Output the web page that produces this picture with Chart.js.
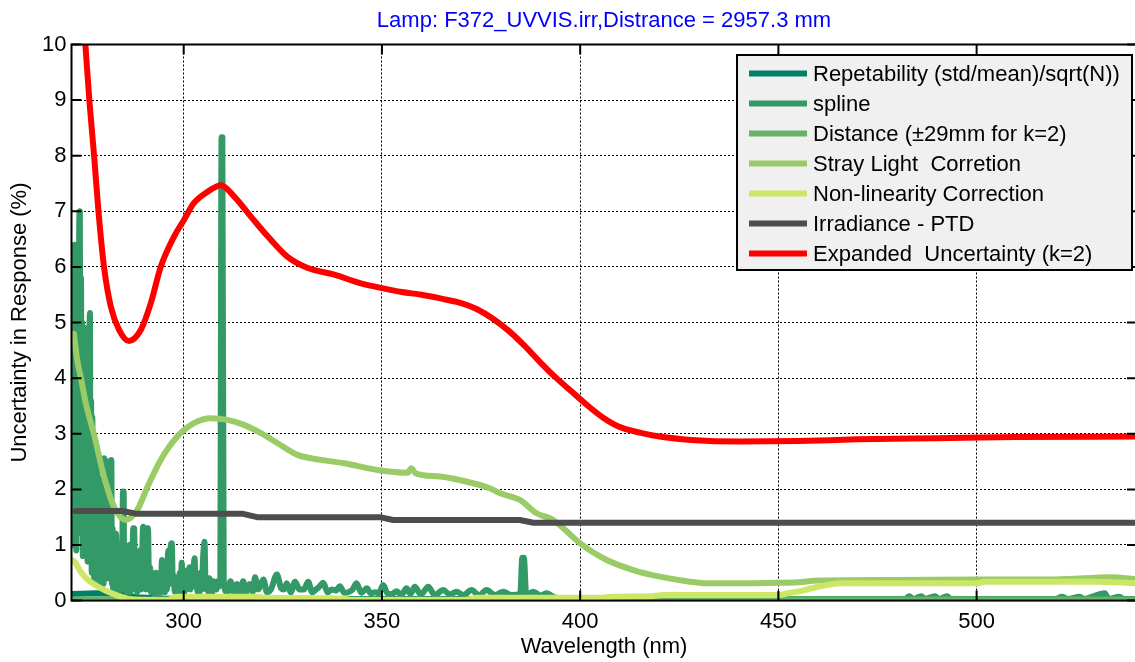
<!DOCTYPE html>
<html>
<head>
<meta charset="utf-8">
<title>Uncertainty in Response</title>
<script src="https://cdn.jsdelivr.net/npm/chart.js@4.4.0/dist/chart.umd.min.js"></script>
<style>
html, body { margin: 0; padding: 0; background: #fff; overflow: hidden; }
#wrap { width: 1140px; height: 662px; }
</style>
</head>
<body>
<div id="wrap"><canvas id="myChart" width="1140" height="662"></canvas></div>
<script>
// axis setup
var xTicks = [300, 350, 400, 450, 500];
var yTicks = [0, 1, 2, 3, 4, 5, 6, 7, 8, 9, 10];
var xRange = [271.7, 540.45];
var yRange = [0, 10];

var chartTitle = 'Lamp: F372_UVVIS.irr,Distrance = 2957.3 mm';
var xTitle = 'Wavelength (nm)';
var yTitle = 'Uncertainty in Response (%)';

var seriesNames = [
	'Repetability (std/mean)/sqrt(N))',
	'spline',
	'Distance (\u00b129mm for k=2)',
	'Stray Light  Corretion',
	'Non-linearity Correction',
	'Irradiance - PTD',
	'Expanded  Uncertainty (k=2)'
];
var seriesColors = ['#008066', '#339966', '#66b366', '#99cc66', '#cce666', '#4d4d4d', '#ff0000'];
// smooth curves get monotone interpolation, the PTD steps stay straight
var seriesSmooth = [false, true, false, true, true, false, true];

// Repetability
var repNm = [272.0, 278.0, 284.5, 288.0, 295.0, 310.0, 540.45];
var repVal = [0.12, 0.13, 0.12, 0.06, 0.04, 0.03, 0.03];

// spline
var splineNm = [
	272.0, 272.15, 272.3, 272.45, 272.6, 272.75, 272.9, 273.05, 273.2, 273.35,
	273.5, 273.65, 273.8, 273.95, 274.1, 274.25, 274.4, 274.55, 274.7, 274.85,
	275.0, 275.15, 275.3, 275.45, 275.6, 275.75, 275.9, 276.05, 276.2, 276.35,
	276.5, 276.65, 276.8, 276.95, 277.1, 277.25, 277.4, 277.55, 277.7, 277.85,
	278.0, 278.15, 278.3, 278.45, 278.6, 278.75, 278.9, 279.05, 279.2, 279.35,
	279.5, 279.65, 279.8, 279.95, 280.1, 280.25, 280.4, 280.55, 280.7, 280.85,
	281.0, 281.15, 281.3, 281.45, 281.6, 281.75, 281.9, 282.05, 282.2, 282.35,
	282.5, 282.65, 282.8, 282.95, 283.1, 283.25, 283.4, 283.55, 283.7, 283.85,
	284.0, 284.15, 284.3, 284.45, 284.7, 284.85, 285.0, 285.25, 285.5, 285.75,
	286.0, 286.25, 286.5, 286.75, 287.0, 287.25, 287.5, 287.75, 288.0, 288.25,
	288.5, 288.75, 289.0, 289.25, 289.5, 289.75, 290.0, 290.25, 290.5, 290.75,
	291.0, 291.25, 291.5, 291.75, 292.0, 292.25, 292.5, 292.75, 293.0, 293.25,
	293.5, 293.75, 294.0, 294.25, 294.5, 294.75, 295.0, 295.25, 295.5, 295.75,
	296.0, 296.25, 296.5, 296.75, 297.0, 297.25, 297.5, 297.75, 298.0, 298.25,
	298.5, 298.75, 299.0, 299.25, 299.5, 299.75, 300.0, 300.25, 300.5, 300.75,
	301.0, 301.25, 301.5, 301.75, 302.0, 302.25, 302.5, 302.75, 303.0, 303.25,
	303.5, 303.75, 304.0, 304.25, 304.5, 304.75, 305.0, 305.25, 305.5, 305.75,
	306.0, 306.25, 306.5, 306.75, 307.0, 307.25, 307.5, 307.75, 308.0, 308.25,
	308.5, 308.75, 309.2, 309.55, 309.75, 310.1, 311.0, 311.8, 312.6, 313.4,
	314.2, 315.0, 315.8, 316.6, 317.4, 318.0, 318.8, 319.5, 320.1, 321.0,
	322.0, 323.5, 324.6, 325.3, 326.0, 327.0, 328.1, 329.2, 330.3, 331.4,
	332.4, 333.4, 334.2, 335.2, 336.3, 337.4, 338.4, 339.4, 340.5, 341.5,
	342.6, 343.6, 344.8, 346.2, 347.2, 348.3, 349.2, 350.3, 351.5, 352.6,
	353.7, 354.9, 356.2, 357.2, 358.3, 359.8, 361.7, 363.3, 365.5, 367.1,
	368.8, 370.6, 372.6, 374.5, 376.4, 378.5, 380.6, 382.6, 384.9, 385.4,
	385.8, 386.4, 388.2, 390.0, 391.6, 393.5, 396.0, 400.0, 440.0, 482.0,
	483.0, 484.0, 486.0, 487.0, 489.5, 490.5, 492.5, 493.5, 520.0, 521.5,
	523.0, 526.0, 527.0, 532.3, 533.3, 536.0, 537.0, 540.45
];
var splineVal = [
	1.0, 6.3, 2.0, 6.4, 1.5, 6.2, 0.9, 5.5, 1.2, 6.3,
	2.5, 6.8, 7.0, 2.0, 5.8, 1.5, 5.0, 0.8, 4.6, 1.6,
	4.9, 1.0, 4.2, 2.0, 4.6, 0.7, 3.8, 1.5, 4.4, 5.17,
	1.0, 3.6, 0.5, 3.3, 0.8, 3.0, 0.4, 2.8, 0.5, 2.2,
	0.3, 2.6, 0.6, 1.9, 0.3, 2.2, 0.4, 1.6, 0.3, 2.0,
	0.5, 1.4, 0.3, 2.56, 2.5, 0.6, 2.4, 0.9, 2.5, 0.4,
	2.3, 0.8, 2.45, 0.5, 2.5, 2.53, 0.3, 1.3, 0.2, 1.1,
	0.3, 0.9, 0.2, 1.2, 0.3, 0.8, 0.2, 1.0, 0.15, 0.7,
	0.3, 0.9, 0.2, 0.5, 1.96, 1.96, 0.2, 0.9, 0.15, 0.6,
	0.2, 1.0, 0.15, 0.7, 0.3, 1.3, 1.3, 0.2, 0.8, 0.15,
	0.6, 0.2, 0.9, 0.2, 0.7, 1.33, 0.3, 0.8, 0.2, 1.3,
	1.3, 0.3, 0.6, 0.15, 0.5, 0.2, 0.45, 0.1, 0.5, 0.15,
	0.35, 0.2, 0.5, 0.15, 0.73, 0.2, 0.45, 0.15, 0.5, 0.2,
	0.8, 0.9, 0.3, 1.0, 1.03, 0.3, 0.45, 0.15, 0.4, 0.1,
	0.35, 0.2, 0.5, 0.15, 0.68, 0.2, 0.4, 0.15, 0.45, 0.2,
	0.55, 0.25, 0.6, 0.2, 0.5, 0.3, 0.6, 0.76, 0.25, 0.4,
	0.15, 0.45, 0.15, 0.5, 0.2, 0.55, 0.9, 1.06, 0.3, 0.2,
	0.35, 0.15, 0.4, 0.2, 0.3, 0.15, 0.35, 0.2, 0.3, 0.2,
	0.35, 0.25, 0.3, 8.33, 8.33, 0.3, 0.15, 0.35, 0.15, 0.3,
	0.12, 0.35, 0.15, 0.3, 0.15, 0.42, 0.2, 0.3, 0.38, 0.15,
	0.2, 0.47, 0.22, 0.2, 0.31, 0.15, 0.34, 0.2, 0.2, 0.34,
	0.15, 0.2, 0.25, 0.32, 0.15, 0.2, 0.18, 0.26, 0.14, 0.15,
	0.2, 0.31, 0.14, 0.22, 0.13, 0.15, 0.13, 0.28, 0.12, 0.12,
	0.17, 0.1, 0.22, 0.12, 0.25, 0.11, 0.25, 0.1, 0.19, 0.11,
	0.16, 0.1, 0.19, 0.1, 0.19, 0.1, 0.16, 0.1, 0.12, 0.77,
	0.77, 0.1, 0.16, 0.09, 0.13, 0.06, 0.04, 0.03, 0.03, 0.03,
	0.08, 0.03, 0.08, 0.03, 0.08, 0.03, 0.08, 0.03, 0.03, 0.07,
	0.03, 0.07, 0.03, 0.13, 0.03, 0.07, 0.03, 0.03
];

// Distance
var distNm = [272.0, 350.0, 450.0, 540.45];
var distVal = [0.02, 0.02, 0.02, 0.02];

// Stray light correction
var strayNm = [
	272.3, 273.2, 274.0, 275.3, 277.4, 279.9, 282.4, 285.4, 288.3, 290.9,
	294.2, 298.4, 302.6, 306.8, 311.0, 315.2, 319.5, 323.7, 328.7, 334.6,
	340.5, 348.9, 356.5, 357.4, 358.5, 364.6, 373.0, 377.2, 379.8, 384.8,
	389.0, 393.2, 400.0, 406.7, 413.4, 420.1, 427.7, 432.0, 440.0, 450.0,
	455.0, 460.0, 480.0, 500.0, 520.0, 534.0, 540.45
];
var strayVal = [
	4.8, 4.3, 4.03, 3.55, 2.98, 2.23, 1.69, 1.45, 1.63, 2.05,
	2.53, 2.95, 3.19, 3.28, 3.25, 3.16, 3.01, 2.83, 2.62, 2.53,
	2.47, 2.35, 2.3, 2.38, 2.29, 2.23, 2.11, 2.02, 1.93, 1.81,
	1.57, 1.45, 1.03, 0.73, 0.55, 0.43, 0.34, 0.31, 0.31, 0.32,
	0.33, 0.36, 0.37, 0.38, 0.38, 0.42, 0.38
];

// Non-linearity correction
var nonlinNm = [
	272.2, 272.7, 274.3, 276.0, 277.7, 280.0, 281.9, 284.0, 286.1, 290.0,
	296.0, 298.0, 318.0, 320.0, 340.0, 342.0, 371.0, 374.0, 405.0, 408.0,
	418.0, 421.0, 448.0, 450.0, 453.0, 456.0, 460.0, 463.0, 466.0, 500.0,
	502.0, 530.0, 538.0, 540.45
];
var nonlinVal = [
	0.72, 0.68, 0.49, 0.36, 0.28, 0.19, 0.13, 0.07, 0.03, 0.01,
	0.01, 0.07, 0.07, 0.05, 0.04, 0.01, 0.01, 0.05, 0.05, 0.07,
	0.08, 0.1, 0.1, 0.1, 0.14, 0.18, 0.25, 0.29, 0.31, 0.31,
	0.34, 0.34, 0.32, 0.31
];

// Irradiance - PTD
var ptdNm = [272.7, 284.6, 288.2, 315.0, 318.5, 349.5, 352.8, 384.8, 388.2, 540.45];
var ptdVal = [1.61, 1.61, 1.56, 1.56, 1.50, 1.50, 1.45, 1.45, 1.40, 1.40];

// Expanded uncertainty (k=2)
var expNm = [
	274.7, 275.2, 276.2, 277.4, 278.5, 279.9, 281.6, 283.7, 286.2, 289.2,
	291.7, 294.2, 297.6, 300.1, 302.6, 306.0, 309.4, 312.8, 317.0, 321.2,
	326.2, 331.3, 338.0, 344.5, 350.0, 355.0, 360.0, 365.0, 370.0, 374.0,
	378.0, 382.0, 386.0, 390.0, 394.0, 398.0, 402.0, 406.0, 410.0, 415.0,
	420.0, 428.0, 440.0, 455.0, 470.0, 490.0, 510.0, 540.45
];
var expVal = [
	10.5, 10.0, 9.0, 8.0, 7.0, 6.0, 5.29, 4.87, 4.67, 4.87,
	5.35, 6.0, 6.55, 6.85, 7.15, 7.35, 7.47, 7.26, 6.9, 6.55,
	6.18, 5.98, 5.86, 5.71, 5.62, 5.55, 5.5, 5.43, 5.35, 5.24,
	5.07, 4.85, 4.58, 4.28, 4.0, 3.75, 3.5, 3.28, 3.12, 3.02,
	2.95, 2.89, 2.86, 2.87, 2.9, 2.92, 2.94, 2.95
];

var seriesNm = [repNm, splineNm, distNm, strayNm, nonlinNm, ptdNm, expNm];
var seriesVal = [repVal, splineVal, distVal, strayVal, nonlinVal, ptdVal, expVal];

var fontFamily = '"Liberation Sans", Arial, Helvetica, sans-serif';

function toPoints(nm, val) {
	var pts = [];
	for (var i = 0; i < nm.length; i++) {
		pts.push({ x: nm[i], y: val[i] });
	}
	return pts;
}

// box, inward ticks, titles and legend
var decorPlugin = {
	id: 'decor',
	afterDatasetsDraw: function (chart) {
		var ctx = chart.ctx;
		var a = chart.chartArea;
		var xs = chart.scales.x;
		var ys = chart.scales.y;
		var tl = 10;
		ctx.save();
		ctx.strokeStyle = '#000';
		ctx.lineWidth = 2;
		ctx.beginPath();
		for (var i = 0; i < xTicks.length; i++) {
			var px = xs.getPixelForValue(xTicks[i]);
			ctx.moveTo(px, a.top);
			ctx.lineTo(px, a.top + tl);
			ctx.moveTo(px, a.bottom);
			ctx.lineTo(px, a.bottom - tl);
		}
		for (var j = 0; j < yTicks.length; j++) {
			var py = ys.getPixelForValue(yTicks[j]);
			ctx.moveTo(a.left, py);
			ctx.lineTo(a.left + tl, py);
			ctx.moveTo(a.right, py);
			ctx.lineTo(a.right - tl, py);
		}
		ctx.stroke();
		ctx.strokeRect(a.left, a.top, a.right - a.left, a.bottom - a.top);
		ctx.restore();
	},
	afterDraw: function (chart) {
		var ctx = chart.ctx;
		var a = chart.chartArea;
		ctx.save();
		ctx.textAlign = 'center';
		ctx.textBaseline = 'middle';
		ctx.font = '22px ' + fontFamily;
		ctx.fillStyle = '#0000ff';
		ctx.fillText(chartTitle, 604, 21);
		ctx.fillStyle = '#000';
		ctx.fillText(xTitle, 604, 647);
		ctx.save();
		ctx.translate(20, (a.top + a.bottom) / 2);
		ctx.rotate(-Math.PI / 2);
		ctx.fillText(yTitle, 0, 0);
		ctx.restore();

		// legend
		var bx = 737, by = 55, bw = 395, bh = 215;
		ctx.fillStyle = '#f0f0f0';
		ctx.fillRect(bx, by, bw, bh);
		ctx.strokeStyle = '#000';
		ctx.lineWidth = 2;
		ctx.strokeRect(bx, by, bw, bh);
		ctx.textAlign = 'left';
		var ds = chart.data.datasets;
		for (var i = 0; i < ds.length; i++) {
			var ry = 73.5 + i * 30;
			ctx.strokeStyle = ds[i].borderColor;
			ctx.lineWidth = 6;
			ctx.lineCap = 'butt';
			ctx.beginPath();
			ctx.moveTo(749, ry);
			ctx.lineTo(807, ry);
			ctx.stroke();
			ctx.fillStyle = '#000';
			ctx.fillText(ds[i].label, 813, ry + 1);
		}
		ctx.restore();
	}
};

function crearGrafico() {
	var ctx = document.getElementById('myChart').getContext('2d');
	var datasets = [];
	for (var i = 0; i < seriesNames.length; i++) {
		datasets.push({
			label: seriesNames[i],
			data: toPoints(seriesNm[i], seriesVal[i]),
			borderColor: seriesColors[i],
			backgroundColor: seriesColors[i],
			borderWidth: 6,
			borderJoinStyle: 'round',
			borderCapStyle: 'round',
			pointRadius: 0,
			cubicInterpolationMode: seriesSmooth[i] ? 'monotone' : 'default',
			tension: 0,
			fill: false,
			order: seriesNames.length - i
		});
	}

	new Chart(ctx, {
		type: 'line',
		data: { datasets: datasets },
		options: {
			responsive: false,
			animation: false,
			devicePixelRatio: 1,
			layout: { padding: { top: 44.5, right: 3, left: 0, bottom: 0 } },
			plugins: {
				legend: { display: false },
				title: { display: false },
				tooltip: { enabled: false }
			},
			scales: {
				x: {
					type: 'linear',
					min: xRange[0],
					max: xRange[1],
					afterBuildTicks: function (s) {
						s.ticks = xTicks.map(function (v) { return { value: v }; });
					},
					afterFit: function (s) {
						s.height = 61.4;
						s.paddingLeft = 0;
						s.paddingRight = 0;
						s.paddingTop = 0;
						s.paddingBottom = 0;
					},
					grid: { color: '#000', lineWidth: 1, drawTicks: false },
					border: { display: false, dash: [2, 2] },
					ticks: {
						padding: 8,
						color: '#000',
						maxRotation: 0,
						font: { family: fontFamily, size: 22 },
						callback: function (v) { return String(v); }
					}
				},
				y: {
					type: 'linear',
					min: yRange[0],
					max: yRange[1],
					afterBuildTicks: function (s) {
						s.ticks = yTicks.map(function (v) { return { value: v }; });
					},
					afterFit: function (s) {
						s.width = 71.5;
						s.paddingLeft = 0;
						s.paddingRight = 0;
						s.paddingTop = 0;
						s.paddingBottom = 0;
					},
					grid: { color: '#000', lineWidth: 1, drawTicks: false },
					border: { display: false, dash: [2, 2] },
					ticks: {
						padding: 5,
						color: '#000',
						font: { family: fontFamily, size: 22 },
						callback: function (v) { return String(v); }
					}
				}
			}
		},
		plugins: [decorPlugin]
	});
}

window.onload = crearGrafico;
</script>
</body>
</html>
